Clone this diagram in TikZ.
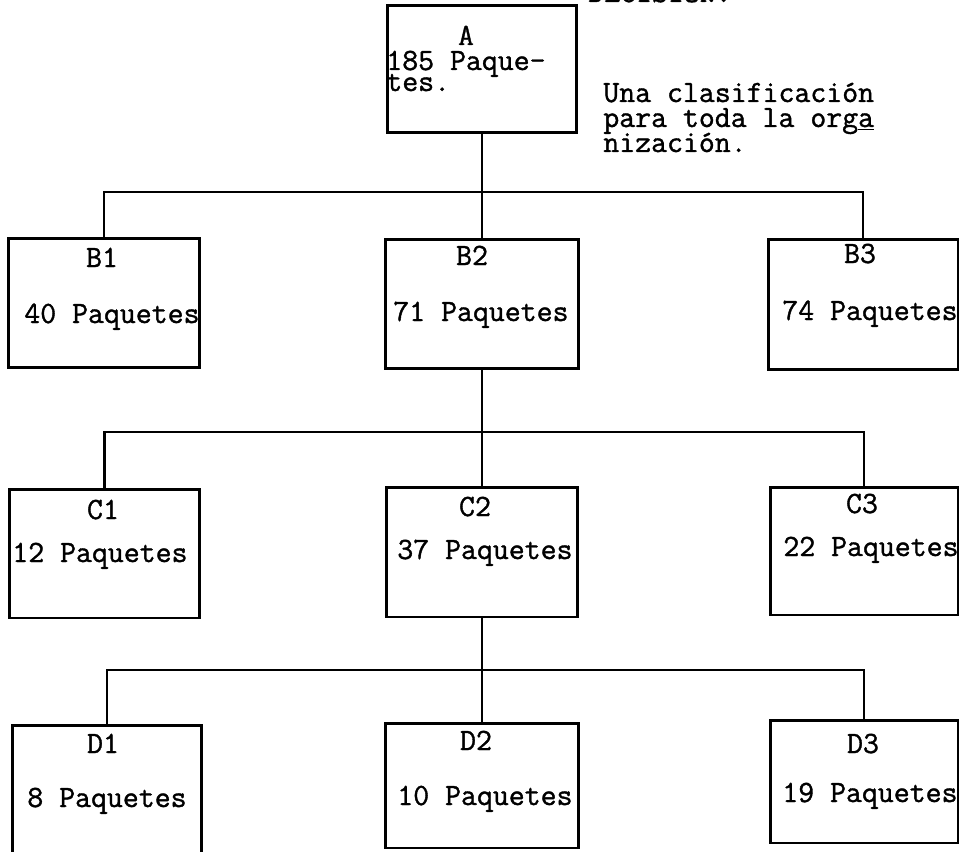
\documentclass[tikz,border=0pt]{standalone}
\usepackage{fontspec}
\setmonofont[FakeBold=1.2]{Latin Modern Mono}
\begin{document}
\begin{tikzpicture}[x=0.02cm,y=-0.02cm,
  box/.style={draw, line width=1.7pt, rectangle, inner sep=0pt, outer sep=0pt},
  wire/.style={line width=1.5pt},
  lbl/.style={font=\ttfamily\fontsize{17.6}{19}\selectfont, inner sep=0pt, anchor=base},
  txt/.style={font=\ttfamily\fontsize{17.6}{19}\selectfont, inner sep=0pt, anchor=base west}]
\useasboundingbox (0,0) rectangle (959,851);
\fill[white] (0,0) rectangle (959,851);

% boxes
\node[box, minimum width=3.8cm,  minimum height=2.56cm] (a)  at (482,69) {};
\node[box, minimum width=3.84cm, minimum height=2.6cm]  (b1) at (104,303) {};
\node[box, minimum width=3.86cm, minimum height=2.6cm]  (b2) at (482,304) {};
\node[box, minimum width=3.8cm,  minimum height=2.62cm] (b3) at (863,304.5) {};
\node[box, minimum width=3.82cm, minimum height=2.58cm] (c1) at (104.5,553.5) {};
\node[box, minimum width=3.84cm, minimum height=2.6cm]  (c2) at (482,552) {};
\node[box, minimum width=3.76cm, minimum height=2.56cm] (c3) at (864,551) {};
\node[box, minimum width=3.8cm,  minimum height=2.9cm]  (d1) at (107,797.5) {};
\node[box, minimum width=3.86cm, minimum height=2.5cm]  (d2) at (482,785.5) {};
\node[box, minimum width=3.76cm, minimum height=2.46cm] (d3) at (864,781.5) {};

% junctions
\coordinate (j1) at (482,192);
\coordinate (j2) at (482,432);
\coordinate (j3) at (482,670);

% connectors
\draw[wire] (a.south) -- (b2.north);
\draw[wire] (b1.north) |- (j1) -| (b3.north);
\draw[wire] (b2.south) -- (c2.north);
\draw[wire] (c1.north) |- (j2) -| (c3.north);
\draw[wire] (c2.south) -- (d2.north);
\draw[wire] (d1.north) |- (j3) -| (d3.north);

% texts
\node[txt] (dec) at (588,2) {DECISION.};
\node[lbl] (at) at (466,45) {A};
\node[txt] (an1) at (386,70) {185 Paque-};
\node[txt] (an2) at (386,91) {tes.};
\node[txt] (u1) at (603,102) {Una clasificación};
\node[txt] (u2) at (603,127) {para toda la org\underline{a}};
\node[txt] (u3) at (603,152) {nización.};

\node[lbl] (b1l) at (102,267) {B1};
\node[txt] (b1n) at (24,323) {40 Paquetes};
\node[lbl] (b2l) at (472,265) {B2};
\node[txt] (b2n) at (393,321) {71 Paquetes};
\node[lbl] (b3l) at (860,263) {B3};
\node[txt] (b3n) at (782,320) {74 Paquetes};

\node[lbl] (c1l) at (103,519) {C1};
\node[txt] (c1n) at (12,562) {12 Paquetes};
\node[lbl] (c2l) at (475,516) {C2};
\node[txt] (c2n) at (397,559) {37 Paquetes};
\node[lbl] (c3l) at (862,513) {C3};
\node[txt] (c3n) at (783,556) {22 Paquetes};

\node[lbl] (d1l) at (103,753) {D1};
\node[txt] (d1n) at (27,807) {8 Paquetes};
\node[lbl] (d2l) at (476,750) {D2};
\node[txt] (d2n) at (397,805) {10 Paquetes};
\node[lbl] (d3l) at (863,753) {D3};
\node[txt] (d3n) at (782,802) {19 Paquetes};
\end{tikzpicture}
\end{document}
